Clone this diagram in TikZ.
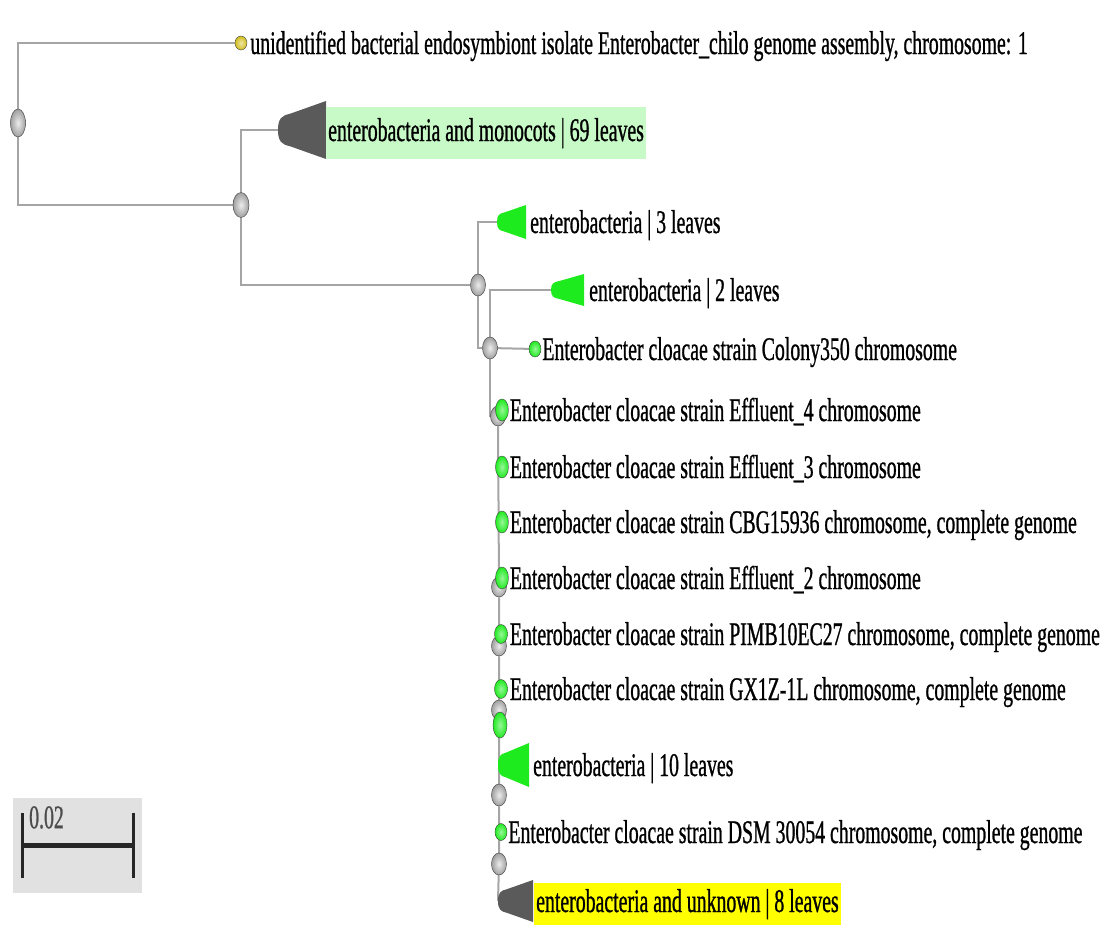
\documentclass[tikz,border=0pt]{standalone}
\usepackage{fontspec}
\newfontfamily\treefont[FakeStretch=0.6,FakeBold=0.8]{Liberation Serif}
\usetikzlibrary{calc}
\usetikzlibrary{positioning}
\usetikzlibrary{shapes.geometric}
\usetikzlibrary{backgrounds}
\definecolor{branchgray}{RGB}{165,165,165}
\definecolor{cladegray}{RGB}{90,90,90}
\definecolor{leafgreen}{RGB}{30,235,30}
\definecolor{chiloyellow}{RGB}{210,190,30}
\definecolor{monocotbg}{RGB}{200,250,200}
\definecolor{unknownbg}{RGB}{255,255,0}
\definecolor{scalebg}{RGB}{225,225,225}
\newcommand{\clade}[4]{%
	\begin{scope}[shift={(#1)}]%
		\fill[#2] (0,0) .. controls (0,-0.4*#4) and (0.08*#3,-0.5*#4) .. (0.25*#3,-0.56*#4) -- (#3,-#4) -- (#3,#4) -- (0.25*#3,0.56*#4) .. controls (0.08*#3,0.5*#4) and (0,0.4*#4) .. (0,0) -- cycle;%
	\end{scope}%
}
\tikzset{
	branch/.style={draw=branchgray,line width=2pt},
	inner/.style={ellipse,draw=gray!60!black,line width=0.5pt,shading=radial,inner color=gray!15,outer color=gray!75,minimum width=15pt,minimum height=22pt,inner sep=0pt},
	leaf/.style={ellipse,draw=gray!50!black,line width=0.4pt,shading=radial,inner color=leafgreen!45!white,outer color=leafgreen,minimum width=13pt,minimum height=18pt,inner sep=0pt},
	taxon/.style={font=\treefont\fontsize{33}{40}\selectfont,inner sep=0pt,text height=23pt,text depth=7pt,anchor=west,yshift=-3pt},
}

\begin{document}
\begin{tikzpicture}[x=1pt,y=-1pt]
	\useasboundingbox (0,0) rectangle (1112,940);
	% scale bar
	\fill[scalebg] (13,798) rectangle (142,893);
	\coordinate (sbl) at (22,845);
	\coordinate (sbr) at (133,845);
	\draw[gray!30!black,line width=5pt] (sbl) -- (sbr);
	\draw[gray!30!black,line width=3pt] ($ (sbl) + (0,-32) $) -- ($ (sbl) + (0,33) $);
	\draw[gray!30!black,line width=3pt] ($ (sbr) + (0,-32) $) -- ($ (sbr) + (0,33) $);
	\node[taxon,anchor=north west,text=gray!60!black,yshift=3pt] (scalelbl) at (29,805) {0.02};
	% internal nodes
	\node[inner,minimum width=15pt,minimum height=28pt] (root) at (18,123) {};
	\node[inner,minimum width=16pt,minimum height=25pt] (nmono) at (241,205) {};
	\node[inner] (nA) at (478,285) {};
	\node[inner] (nB) at (490,348) {};
	\node[inner,minimum height=20pt] (i1) at (498,416) {};
	\node[inner,minimum height=20pt] (i2) at (499,587) {};
	\node[inner,minimum height=20pt] (i3) at (499,646) {};
	\node[inner,minimum height=20pt] (i4) at (499,710) {};
	\node[inner] (i5) at (499,795) {};
	\node[inner] (i6) at (499,864) {};
	% leaves
	\node[leaf,inner color=chiloyellow!40!white,outer color=chiloyellow,minimum width=12pt,minimum height=14pt] (chilo) at (241,43) {};
	\node[leaf,minimum width=12pt,minimum height=16pt] (colony) at (535,349) {};
	\node[leaf,minimum height=22pt] (e4) at (502,410) {};
	\node[leaf,minimum height=22pt] (e3) at (502,467) {};
	\node[leaf,minimum height=22pt] (cbg) at (502,522) {};
	\node[leaf,minimum height=22pt] (e2) at (502,578) {};
	\node[leaf,minimum height=19pt] (pimb) at (501,634) {};
	\node[leaf,minimum height=19pt] (gx) at (501,689) {};
	\node[leaf,minimum width=14pt,minimum height=26pt] (gnode) at (500,725) {};
	\node[leaf,minimum width=12pt,minimum height=17pt] (dsm) at (501,832) {};
	% collapsed clades
	\coordinate (t69) at (278,130);
	\coordinate (t3) at (497,222);
	\coordinate (t2) at (551,290);
	\coordinate (t10) at (498,765);
	\coordinate (t8) at (498,901);
	\begin{scope}[on background layer]
		\draw[branch] (root) |- (chilo);
		\draw[branch] (root) |- (nmono);
		\draw[branch] (nmono) |- (t69);
		\draw[branch] (nmono) |- (nA);
		\draw[branch] (nA) |- (t3);
		\draw[branch] (nA) |- (nB);
		\draw[branch] (nB) |- (t2);
		\draw[branch] (nB) -- (colony);
		\draw[branch] (nB) |- (i1);
		\draw[branch] (i1) -- (i2) -- (i3) -- (i4) -- (i5) -- (i6) -- (t8);
	\end{scope}
	\clade{t69}{cladegray}{48}{29}
	\clade{t3}{leafgreen}{29}{17}
	\clade{t2}{leafgreen}{33}{16}
	\clade{t10}{leafgreen}{31}{22}
	\clade{t8}{cladegray}{35}{21}
	% labels
	\node[taxon,right=3pt of chilo] (lchilo) {unidentified bacterial endosymbiont isolate Enterobacter\_chilo genome assembly, chromosome: 1};
	\node[taxon,fill=monocotbg,inner xsep=2pt,inner ysep=11pt,yshift=0pt,right=48pt of t69] (l69) {enterobacteria and monocots | 69 leaves};
	\node[taxon,right=33pt of t3] (l3) {enterobacteria | 3 leaves};
	\node[taxon,right=38pt of t2] (l2) {enterobacteria | 2 leaves};
	\node[taxon,right=1pt of colony] (lcolony) {Enterobacter cloacae strain Colony350 chromosome};
	\node[taxon,right=1pt of e4] (le4) {Enterobacter cloacae strain Effluent\_4 chromosome};
	\node[taxon,right=1pt of e3] (le3) {Enterobacter cloacae strain Effluent\_3 chromosome};
	\node[taxon,right=1pt of cbg] (lcbg) {Enterobacter cloacae strain CBG15936 chromosome, complete genome};
	\node[taxon,right=1pt of e2] (le2) {Enterobacter cloacae strain Effluent\_2 chromosome};
	\node[taxon,right=2pt of pimb] (lpimb) {Enterobacter cloacae strain PIMB10EC27 chromosome, complete genome};
	\node[taxon,right=2pt of gx] (lgx) {Enterobacter cloacae strain GX1Z-1L chromosome, complete genome};
	\node[taxon,right=35pt of t10] (l10) {enterobacteria | 10 leaves};
	\node[taxon,right=1pt of dsm] (ldsm) {Enterobacter cloacae strain DSM 30054 chromosome, complete genome};
	\node[taxon,fill=unknownbg,inner xsep=2pt,inner ysep=6pt,yshift=0pt,right=36pt of t8] (l8) {enterobacteria and unknown | 8 leaves};
\end{tikzpicture}
\end{document}
